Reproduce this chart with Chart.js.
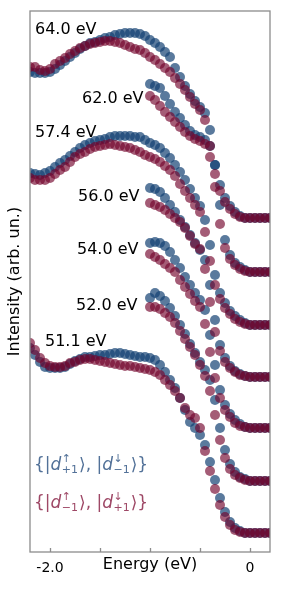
<!DOCTYPE html>
<html>
<head>
<meta charset="utf-8">
<script src="https://cdn.jsdelivr.net/npm/chart.js@4.4.0/dist/chart.umd.min.js"></script>
<style>
  html, body { margin: 0; padding: 0; background: #fff; }
  #wrap { width: 300px; height: 595px; }
</style>
</head>
<body>
<div id="wrap"><canvas id="spectra"></canvas></div>
<script>
// energy grid, eV
const energy = [-2.2, -2.15, -2.1, -2.05, -2.0, -1.95, -1.9, -1.85, -1.8, -1.75,
  -1.7, -1.65, -1.6, -1.55, -1.5, -1.45, -1.4, -1.35, -1.3, -1.25,
  -1.2, -1.15, -1.1, -1.05, -1.0, -0.95, -0.9, -0.85, -0.8, -0.75,
  -0.7, -0.65, -0.6, -0.55, -0.5, -0.45, -0.4, -0.35, -0.3, -0.25,
  -0.2, -0.15, -0.1, -0.05, 0, 0.05, 0.1, 0.15, 0.2];

const photonLabels = ['64.0 eV', '62.0 eV', '57.4 eV', '56.0 eV', '54.0 eV', '52.0 eV', '51.1 eV'];
const offsets = [334, 280, 227, 175, 124, 71, 19];
const startIndex = [0, 24, 0, 24, 24, 24, 0];

// {|d+1 up>, |d-1 down>}  (blue)
const blue64 = [146, 145, 145, 145, 146, 149, 153, 157, 161, 165, 169, 172, 175, 176, 178, 180, 181, 183, 184, 185, 185, 185, 184, 182, 178, 175, 171, 166, 161, 150, 141, 132, 124, 117, 111, 105, 88, 53, 33, 20, 12, 6, 2, 0, 0, 0, 0, 0, 0];
const blue62 = [188, 186, 184, 176, 168, 160, 154, 147, 141, 137, 135, 132, 126, 107, 67, 32, 17, 9, 5, 2, 0, 0, 0, 0, 0];
const blue574 = [152, 151, 150, 152, 154, 158, 162, 165, 169, 173, 177, 180, 182, 184, 185, 186, 188, 189, 189, 189, 189, 188, 188, 185, 182, 180, 177, 172, 167, 160, 153, 145, 136, 127, 119, 105, 80, 50, 32, 22, 14, 9, 5, 2, 0, 0, 0, 0, 0];
const blue56 = [189, 188, 185, 179, 172, 165, 157, 150, 142, 134, 127, 117, 92, 57, 32, 19, 11, 6, 3, 1, 0, 0, 0, 0, 0];
const blue54 = [185, 186, 185, 182, 176, 168, 160, 151, 143, 135, 128, 118, 93, 63, 38, 23, 14, 8, 4, 1, 0, 0, 0, 0, 0];
const blue52 = [183, 188, 185, 180, 173, 165, 156, 147, 137, 128, 119, 111, 101, 81, 53, 31, 17, 9, 4, 2, 0, 0, 0, 0, 0];
const blue511 = [185, 178, 171, 166, 165, 165, 165, 166, 169, 172, 174, 176, 176, 177, 178, 178, 179, 180, 180, 179, 178, 177, 176, 176, 175, 173, 168, 161, 153, 145, 135, 123, 111, 105, 98, 88, 71, 53, 35, 21, 11, 5, 2, 0, 0, 0, 0, 0, 0];

// {|d-1 up>, |d+1 down>}  (red)
const red64 = [151, 151, 148, 147, 149, 154, 157, 160, 164, 167, 170, 172, 174, 175, 176, 177, 177, 176, 175, 173, 171, 169, 168, 165, 161, 158, 154, 150, 146, 140, 134, 128, 121, 114, 108, 98, 72, 44, 27, 16, 9, 4, 1, 0, 0, 0, 0, 0, 0];
const red62 = [176, 172, 166, 160, 155, 150, 145, 140, 136, 133, 131, 128, 115, 85, 48, 24, 13, 7, 3, 1, 0, 0, 0, 0, 0];
const red574 = [147, 145, 145, 145, 147, 151, 155, 158, 163, 168, 171, 173, 176, 178, 179, 180, 181, 180, 179, 178, 177, 175, 173, 170, 168, 166, 163, 159, 155, 149, 141, 134, 127, 120, 113, 93, 64, 40, 26, 17, 11, 6, 3, 1, 0, 0, 0, 0, 0];
const red56 = [174, 172, 170, 167, 163, 159, 155, 149, 141, 133, 128, 108, 75, 45, 26, 15, 9, 5, 2, 1, 0, 0, 0, 0, 0];
const red54 = [174, 171, 168, 164, 160, 156, 148, 141, 134, 127, 121, 104, 76, 50, 30, 18, 11, 5, 2, 1, 0, 0, 0, 0, 0];
const red52 = [174, 174, 172, 168, 164, 158, 150, 142, 134, 126, 116, 105, 90, 66, 41, 23, 12, 6, 3, 1, 0, 0, 0, 0, 0];
const red511 = [190, 183, 175, 170, 167, 166, 166, 167, 170, 171, 173, 174, 174, 173, 172, 171, 170, 169, 168, 167, 167, 166, 165, 164, 163, 161, 158, 153, 148, 142, 135, 125, 118, 115, 105, 82, 62, 44, 28, 16, 8, 3, 1, 0, 0, 0, 0, 0, 0];

const blueSeries = [blue64, blue62, blue574, blue56, blue54, blue52, blue511];
const redSeries = [red64, red62, red574, red56, red54, red52, red511];

const tickValues = [-2.0, -1.5, -1.0, -0.5, 0];
const tickLabels = ['-2.0', '', '', '', '0'];

const BLUE = 'rgba(20, 65, 115, 0.7)';
const RED = 'rgba(115, 5, 45, 0.65)';
const FONT = '"DejaVu Sans", Verdana, sans-serif';

function toPoints(values, i) {
    return values.map((v, k) => ({ x: energy[startIndex[i] + k], y: offsets[i] + v }));
}

const datasets = [];
photonLabels.forEach((name, i) => {
    datasets.push({ label: name + ' blue', data: toPoints(blueSeries[i], i), backgroundColor: BLUE, order: 1 });
    datasets.push({ label: name + ' red', data: toPoints(redSeries[i], i), backgroundColor: RED, order: 0 });
});

// label anchors in data units (left edge, middle)
const labelPos = [[-2.15, 522], [-1.68, 453], [-2.15, 419], [-1.72, 355], [-1.73, 302], [-1.74, 246], [-2.05, 210]];

// frame, inward ticks and text annotations
const decorations = {
    id: 'decorations',
    afterDatasetsDraw(chart) {
        const { ctx, chartArea: a, scales: { x, y } } = chart;
        ctx.save();
        ctx.strokeStyle = '#8c8c8c';
        ctx.lineWidth = 1.3;
        ctx.strokeRect(a.left, a.top, a.right - a.left, a.bottom - a.top);
        ctx.beginPath();
        tickValues.forEach(v => {
            const px = Math.round(x.getPixelForValue(v)) + 0.5;
            ctx.moveTo(px, a.bottom);
            ctx.lineTo(px, a.bottom - 4);
        });
        ctx.stroke();

        ctx.fillStyle = '#000';
        ctx.font = '16px ' + FONT;
        ctx.textBaseline = 'middle';
        ctx.textAlign = 'left';
        photonLabels.forEach((t, i) => {
            ctx.fillText(t, x.getPixelForValue(labelPos[i][0]), y.getPixelForValue(labelPos[i][1]));
        });

        const x0 = x.getPixelForValue(-2.16);
        drawState(ctx, x0, y.getPixelForValue(82), 'rgb(82, 113, 152)', ['↑', '+1', '↓', '−1']);
        drawState(ctx, x0, y.getPixelForValue(44), 'rgb(158, 72, 102)', ['↑', '−1', '↓', '+1']);
        ctx.restore();
    }
};

function drawState(ctx, x, base, color, s) {
    ctx.fillStyle = color;
    ctx.textBaseline = 'alphabetic';
    ctx.textAlign = 'left';
    let cx = x;
    const text = (t, font, dy) => {
        ctx.font = font;
        ctx.fillText(t, cx, base + dy);
        return ctx.measureText(t).width;
    };
    const main = '17px ' + FONT;
    const small = '11px ' + FONT;
    const ket = (sup, sub) => {
        cx += text('d', 'italic ' + main, 0) + 0.5;
        const w1 = text(sup, small, -8);
        const w2 = text(sub, small, 3);
        cx += Math.max(w1, w2) + 1;
    };
    cx += text('{|', main, 0);
    ket(s[0], s[1]);
    cx += text('⟩, |', main, 0);
    ket(s[2], s[3]);
    text('⟩}', main, 0);
}

new Chart(document.getElementById('spectra'), {
    type: 'scatter',
    data: { datasets },
    options: {
        responsive: true,
        maintainAspectRatio: false,
        animation: false,
        layout: { padding: { top: 11, right: 30, left: 0, bottom: 0 } },
        elements: { point: { radius: 5, borderWidth: 0, hoverRadius: 5 } },
        plugins: { legend: { display: false }, tooltip: { enabled: false } },
        scales: {
            x: {
                type: 'linear',
                min: -2.2,
                max: 0.2,
                afterBuildTicks: scale => { scale.ticks = tickValues.map(v => ({ value: v })); },
                afterFit: scale => { scale.height = 43; },
                grid: { display: false },
                border: { display: false },
                ticks: {
                    autoSkip: false,
                    maxRotation: 0,
                    padding: 0,
                    color: '#000',
                    font: { family: FONT, size: 14 },
                    callback: v => tickLabels[tickValues.indexOf(v)] ?? ''
                },
                title: {
                    display: true,
                    text: 'Energy (eV)',
                    color: '#000',
                    font: { family: FONT, size: 16 },
                    padding: { top: 0, bottom: 21 }
                }
            },
            y: {
                min: 0,
                max: 541,
                afterFit: scale => { scale.width = 30; },
                grid: { display: false },
                border: { display: false },
                ticks: { display: false },
                title: {
                    display: true,
                    text: 'Intensity (arb. un.)',
                    color: '#000',
                    font: { family: FONT, size: 16 },
                    padding: { top: 5, bottom: 0 }
                }
            }
        }
    },
    plugins: [decorations]
});
</script>
</body>
</html>
